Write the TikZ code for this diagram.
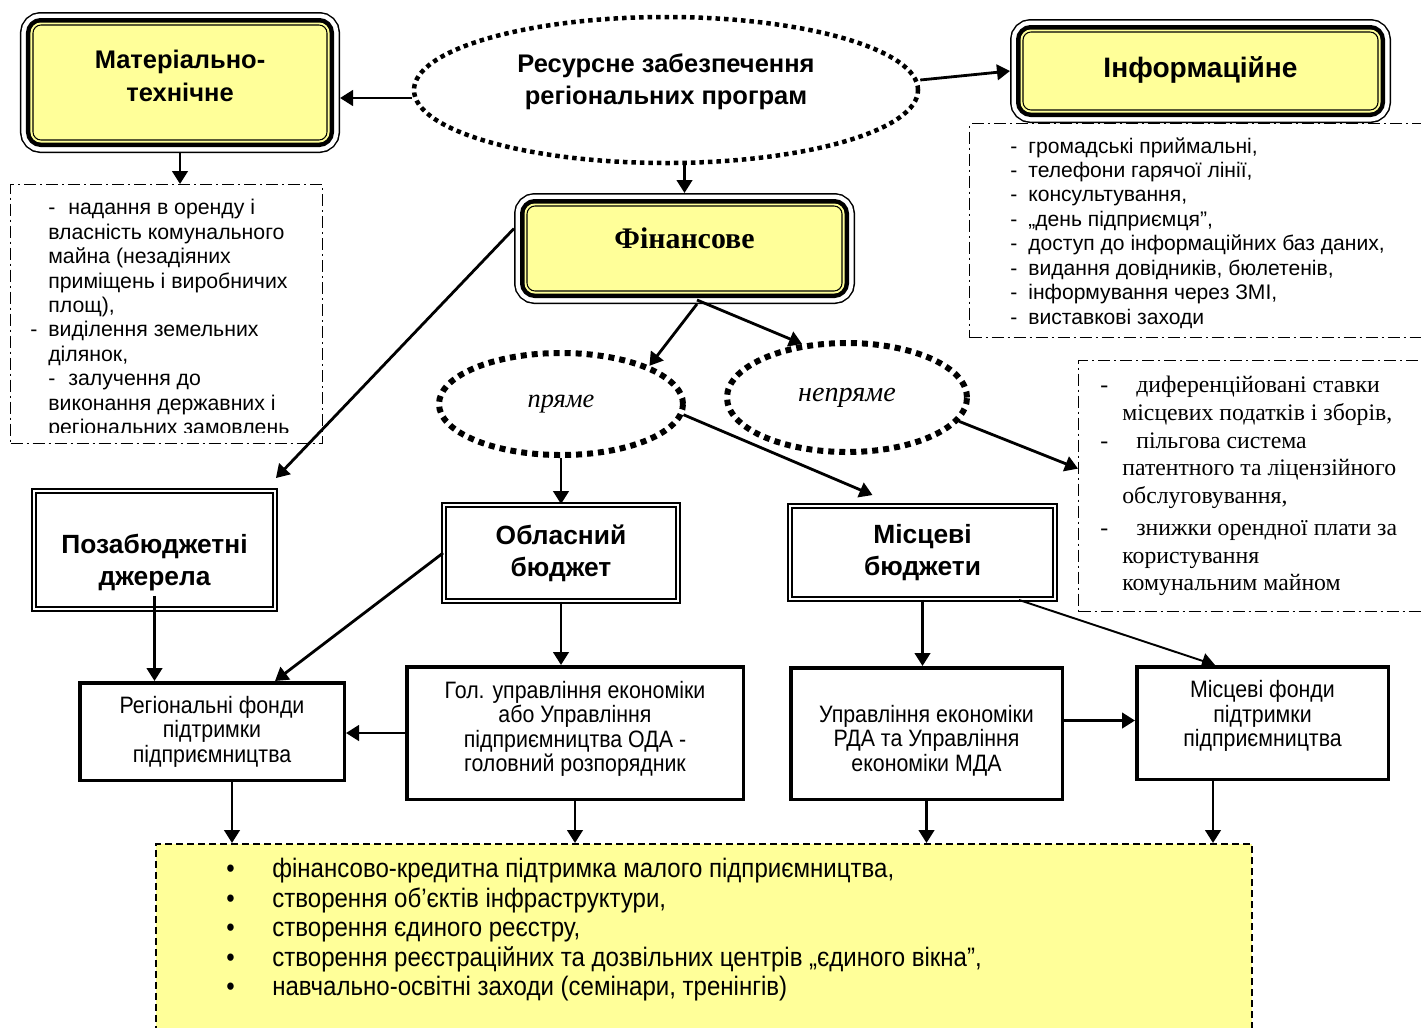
\documentclass[tikz,border=0pt]{standalone}
\usepackage{fontspec}
\setmainfont{Liberation Sans}
\newfontfamily\tnr{Liberation Serif}
\newfontfamily\narrowsf[FakeStretch=0.9]{Liberation Sans}
\usetikzlibrary{shapes.geometric}
\usetikzlibrary{arrows.meta}
\usetikzlibrary{calc}

\definecolor{yel}{RGB}{255,255,153}
% invisible strut that lifts (depth) or lowers (height) a node text
\newcommand{\liftby}[1]{\rule[-#1]{0pt}{0pt}}
\newcommand{\dropby}[1]{\rule{0pt}{#1}}

\begin{document}
\begin{tikzpicture}[
    x=0.2mm, y=-0.2mm, % one unit = one pixel of the layout, y runs down
    arr/.style={line width=1.6pt, -{Triangle[length=2.6mm,width=3.1mm]}}, % connectors
    tribox/.style={
        draw, line width=0.6pt, fill=yel,
        rounded corners=1.6mm, inner sep=0pt, outer sep=2.6mm, align=center,
        preaction={draw, line width=5.2mm}, % outer thin line
        preaction={draw=white, line width=4.6mm},
        preaction={draw, line width=2.8mm}, % thick black ring
        preaction={draw=yel, line width=1mm}
    },
    dblbox/.style={draw, line width=1.1pt, double, double distance=1.1pt, align=center,
        font=\fontsize{15}{18}\selectfont\bfseries},
    plainbox/.style={draw, line width=2pt, align=center, inner sep=0pt,
        font=\narrowsf\fontsize{13.5}{13.9}\selectfont},
    dotell/.style={ellipse, draw, line width=1.2mm, dash pattern=on 1.2mm off 1mm, inner sep=0pt},
    dashdot/.style={draw, line width=0.7pt, dash pattern=on 2.4mm off 0.8mm on 0.4mm off 0.8mm,
        inner sep=0pt, anchor=north west},
    listtext/.style={anchor=north west, align=left, inner sep=0pt}
]
\useasboundingbox (0,0) rectangle (1421,1027);

% top level
\node[dotell, line width=0.9mm, dash pattern=on 0.9mm off 0.8mm,
      minimum width=100.8mm, minimum height=29.2mm, align=center,
      font=\fontsize{14.5}{18.5}\selectfont\bfseries] (res) at (666,90)
      {Ресурсне забезпечення\\регіональних програм\liftby{4.3mm}};
\node[tribox, minimum width=58.8mm, minimum height=23mm,
      font=\fontsize{14.5}{18.7}\selectfont\bfseries] (mat) at (180,82.5)
      {Матеріально-\\технічне\liftby{2.8mm}};
\node[tribox, minimum width=71mm, minimum height=15.6mm,
      font=\fontsize{16}{19}\selectfont\bfseries] (info) at (1200.5,71)
      {Інформаційне\liftby{1.6mm}};
\node[tribox, minimum width=63mm, minimum height=17mm,
      font=\tnr\fontsize{17}{20}\selectfont\bfseries] (fin) at (684.5,248.5)
      {Фінансове\liftby{4.2mm}};

% lists
\node[dashdot, minimum width=62.4mm, minimum height=51.8mm] (matlist) at (10,184) {};
\begin{scope}
    \clip (10,184) rectangle (322,432);
    \node[listtext, font=\fontsize{12.1}{13.9}\selectfont] at (48,199) {%
        \makebox[4mm][l]{-}надання в оренду і\\
        власність комунального\\
        майна (незадіяних\\
        приміщень і виробничих\\
        площ),\\
        \hspace*{-3.6mm}\makebox[3.6mm][l]{-}виділення земельних\\
        ділянок,\\
        \makebox[4mm][l]{-}залучення до\\
        виконання державних і\\
        регіональних замовлень};
\end{scope}
\node[dashdot, minimum width=92.2mm, minimum height=42.8mm] (infolist) at (969,123) {};
\node[listtext, font=\fontsize{12}{13.9}\selectfont] at (1010,137) {%
    \makebox[3.6mm][l]{-}громадські приймальні,\\
    \makebox[3.6mm][l]{-}телефони гарячої лінії,\\
    \makebox[3.6mm][l]{-}консультування,\\
    \makebox[3.6mm][l]{-}„день підприємця”,\\
    \makebox[3.6mm][l]{-}доступ до інформаційних баз даних,\\
    \makebox[3.6mm][l]{-}видання довідників, бюлетенів,\\
    \makebox[3.6mm][l]{-}інформування через ЗМІ,\\
    \makebox[3.6mm][l]{-}виставкові заходи};

% financing kinds
\node[dotell, minimum width=48.8mm, minimum height=20.4mm,
      font=\tnr\itshape\fontsize{15}{18}\selectfont] (pryame) at (561,404) {пряме};
\node[dotell, minimum width=48mm, minimum height=21.8mm,
      font=\tnr\itshape\fontsize{16}{18}\selectfont] (nepryame) at (847,397.5) {непряме};
\node[dashdot, minimum width=70.4mm, minimum height=50.2mm] (rlist) at (1078,360) {};
\node[listtext, font=\tnr\fontsize{13.5}{15.7}\selectfont] at (1100,376) {%
    \makebox[7.2mm][l]{-}диференційовані ставки\\
    \hspace*{4.4mm}місцевих податків і зборів,\\
    \makebox[7.2mm][l]{-}пільгова система\\
    \hspace*{4.4mm}патентного та ліцензійного\\
    \hspace*{4.4mm}обслуговування,\\[1mm]
    \makebox[7.2mm][l]{-}знижки орендної плати за\\
    \hspace*{4.4mm}користування\\
    \hspace*{4.4mm}комунальним майном};

% sources
\node[dblbox, minimum width=48.2mm, minimum height=23.6mm] (pozab) at (154.5,550)
    {\dropby{9mm}Позабюджетні\\джерела};
\node[dblbox, minimum width=46.8mm, minimum height=19.2mm] (obl) at (561,553)
    {Обласний\\бюджет};
\node[dblbox, minimum width=53mm, minimum height=18.6mm] (misc) at (922.5,552.5)
    {Місцеві\\бюджети};

% managers and funds
\node[plainbox, minimum width=52.9mm, minimum height=19.5mm] (regf) at (212,731.5)
    {Регіональні фонди\\підтримки\\підприємництва};
\node[plainbox, minimum width=67.3mm, minimum height=26.5mm] (gol) at (575,733)
    {Гол. управління економіки\\або Управління\\підприємництва ОДА -\\головний розпорядник\liftby{2.6mm}};
\node[plainbox, minimum width=54.3mm, minimum height=26.3mm] (upr) at (926.5,733.5)
    {\dropby{6.3mm}Управління економіки\\РДА та Управління\\економіки МДА};
\node[plainbox, minimum width=50.3mm, minimum height=22.5mm] (miscf) at (1262.5,723)
    {Місцеві фонди\\підтримки\\підприємництва\liftby{3.8mm}};

% measures
\node[draw, fill=yel, line width=1pt, dash pattern=on 1.4mm off 0.8mm, anchor=north west,
      minimum width=219.2mm, minimum height=40mm] (zahody) at (155,843) {};
\node[listtext, font=\narrowsf\fontsize{15.2}{16.8}\selectfont] at (226,858) {%
    \makebox[9.2mm][l]{•}фінансово-кредитна підтримка малого підприємництва,\\
    \makebox[9.2mm][l]{•}створення об’єктів інфраструктури,\\
    \makebox[9.2mm][l]{•}створення єдиного реєстру,\\
    \makebox[9.2mm][l]{•}створення реєстраційних та дозвільних центрів „єдиного вікна”,\\
    \makebox[9.2mm][l]{•}навчально-освітні заходи (семінари, тренінгів)};

% connectors
\draw[arr] ([yshift=-1.6mm]res.west) -- ([yshift=-1.6mm]res.west -| mat.east);
\draw[arr] ([yshift=2mm]res.east) -- (info.west);
\draw[arr] (fin.north |- res.south) -- (fin.north);
\draw[arr] (mat.south) -- (mat.south |- matlist.north);
\draw[arr] ([xshift=2.5mm]fin.south) -- (pryame.north east);
\draw[arr] ([xshift=2.5mm,yshift=0.8mm]fin.south) -- (nepryame.130);
\draw[arr] ([yshift=4mm]fin.west) -- ([yshift=2.4mm]pozab.north east);
\draw[arr] (pryame.south) -- (obl.north);
\draw[arr] (pryame.-5) -- ([xshift=-10mm,yshift=2mm]misc.north);
\draw[arr] (nepryame.-12) -- ([yshift=3.5mm]rlist.west);
\draw[arr] ([yshift=2.8mm]pozab.south) -- (pozab.south |- regf.north);
\draw[arr] (obl.west) -- ([xshift=12.6mm]regf.north);
\draw[arr] (obl.south) -- (obl.south |- gol.north);
\draw[arr] (gol.west) -- (gol.west -| regf.east);
\draw[arr] (misc.south) -- (misc.south |- upr.north);
\draw[arr, line width=1.1pt] ([xshift=-7.4mm]misc.south east) -- ([xshift=-9.5mm]miscf.north);
\draw[arr] ([yshift=2.6mm]upr.east) -- ([yshift=2.6mm]upr.east -| miscf.west);
\draw[arr] ([xshift=4mm]regf.south) -- ([xshift=4mm]regf.south |- zahody.north);
\draw[arr] (gol.south) -- (gol.south |- zahody.north);
\draw[arr] (upr.south) -- (upr.south |- zahody.north);
\draw[arr] ([xshift=-9.9mm]miscf.south) -- ([xshift=-9.9mm]miscf.south |- zahody.north);
\end{tikzpicture}
\end{document}
